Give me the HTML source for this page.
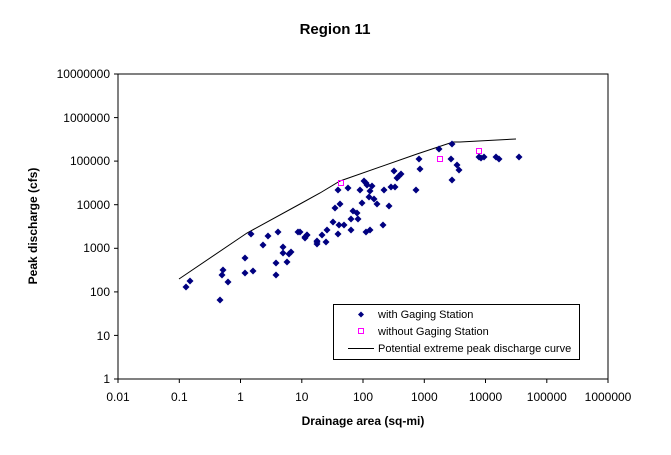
<!DOCTYPE html>
<html><head><style>body{margin:0;background:#fff}</style></head><body>
<svg width="671" height="450" xmlns="http://www.w3.org/2000/svg" xmlns:xlink="http://www.w3.org/1999/xlink" font-family="Liberation Sans, Arial, sans-serif">
<defs><polygon id="d" points="0,-3.5 3.5,0 0,3.5 -3.5,0" fill="#000080"/></defs>
<rect width="671" height="450" fill="#fff"/>
<text x="335" y="34" font-size="15" font-weight="bold" text-anchor="middle">Region 11</text>
<rect x="118" y="74" width="490" height="305" fill="none" stroke="#000" stroke-width="1"/>
<g stroke="#000">
<line x1="114" y1="74" x2="118" y2="74"/><line x1="114" y1="117.6" x2="118" y2="117.6"/><line x1="114" y1="161.1" x2="118" y2="161.1"/><line x1="114" y1="204.7" x2="118" y2="204.7"/><line x1="114" y1="248.3" x2="118" y2="248.3"/><line x1="114" y1="291.9" x2="118" y2="291.9"/><line x1="114" y1="335.4" x2="118" y2="335.4"/><line x1="114" y1="379" x2="118" y2="379"/>
<line x1="118" y1="379" x2="118" y2="383"/><line x1="179.3" y1="379" x2="179.3" y2="383"/><line x1="240.5" y1="379" x2="240.5" y2="383"/><line x1="301.8" y1="379" x2="301.8" y2="383"/><line x1="363" y1="379" x2="363" y2="383"/><line x1="424.3" y1="379" x2="424.3" y2="383"/><line x1="485.5" y1="379" x2="485.5" y2="383"/><line x1="546.8" y1="379" x2="546.8" y2="383"/><line x1="608" y1="379" x2="608" y2="383"/>
</g>
<g font-size="12" text-anchor="end">
<text x="110" y="78">10000000</text><text x="110" y="122">1000000</text><text x="110" y="165">100000</text><text x="110" y="209">10000</text><text x="110" y="252">1000</text><text x="110" y="296">100</text><text x="110" y="340">10</text><text x="110" y="383">1</text>
</g>
<g font-size="12" text-anchor="middle">
<text x="118" y="401">0.01</text><text x="179.3" y="401">0.1</text><text x="240.5" y="401">1</text><text x="301.8" y="401">10</text><text x="363" y="401">100</text><text x="424.3" y="401">1000</text><text x="485.5" y="401">10000</text><text x="546.8" y="401">100000</text><text x="608" y="401">1000000</text>
</g>
<text x="363" y="425" font-size="12" font-weight="bold" text-anchor="middle">Drainage area (sq-mi)</text>
<text transform="translate(37,226) rotate(-90)" font-size="12" font-weight="bold" text-anchor="middle">Peak discharge (cfs)</text>
<polyline points="179,279 247,233 300,204 320,193 340,181 417,154 453,142 460,142 516,139" fill="none" stroke="#000" stroke-width="1"/>
<g>
<use xlink:href="#d" x="338" y="190"/><use xlink:href="#d" x="348" y="188"/><use xlink:href="#d" x="360" y="190"/><use xlink:href="#d" x="364" y="181"/><use xlink:href="#d" x="366" y="183"/><use xlink:href="#d" x="367" y="185"/><use xlink:href="#d" x="372" y="186"/><use xlink:href="#d" x="370" y="191"/><use xlink:href="#d" x="369" y="197"/><use xlink:href="#d" x="374" y="199"/><use xlink:href="#d" x="377" y="204"/><use xlink:href="#d" x="362" y="203"/><use xlink:href="#d" x="340" y="204"/><use xlink:href="#d" x="335" y="208"/><use xlink:href="#d" x="353" y="211"/><use xlink:href="#d" x="357" y="213"/><use xlink:href="#d" x="358" y="219"/><use xlink:href="#d" x="351" y="219"/><use xlink:href="#d" x="333" y="222"/><use xlink:href="#d" x="339" y="225"/><use xlink:href="#d" x="344" y="225"/><use xlink:href="#d" x="351" y="230"/><use xlink:href="#d" x="338" y="234"/><use xlink:href="#d" x="366" y="232"/><use xlink:href="#d" x="370" y="230"/><use xlink:href="#d" x="383" y="225"/><use xlink:href="#d" x="389" y="206"/><use xlink:href="#d" x="384" y="190"/><use xlink:href="#d" x="391" y="187"/><use xlink:href="#d" x="395" y="187"/><use xlink:href="#d" x="394" y="171"/><use xlink:href="#d" x="397" y="178"/><use xlink:href="#d" x="399" y="176"/><use xlink:href="#d" x="401" y="174"/><use xlink:href="#d" x="416" y="190"/><use xlink:href="#d" x="419" y="159"/><use xlink:href="#d" x="420" y="169"/><use xlink:href="#d" x="439" y="149"/><use xlink:href="#d" x="451" y="159"/><use xlink:href="#d" x="452" y="144"/><use xlink:href="#d" x="452" y="180"/><use xlink:href="#d" x="457" y="165"/><use xlink:href="#d" x="459" y="170"/><use xlink:href="#d" x="479" y="157"/><use xlink:href="#d" x="481" y="158"/><use xlink:href="#d" x="484" y="157"/><use xlink:href="#d" x="496" y="157"/><use xlink:href="#d" x="499" y="159"/><use xlink:href="#d" x="519" y="157"/><use xlink:href="#d" x="327" y="230"/><use xlink:href="#d" x="322" y="235"/><use xlink:href="#d" x="307" y="235"/><use xlink:href="#d" x="305" y="237"/><use xlink:href="#d" x="317" y="242"/><use xlink:href="#d" x="317" y="244"/><use xlink:href="#d" x="326" y="242"/><use xlink:href="#d" x="300" y="232"/><use xlink:href="#d" x="186" y="287"/><use xlink:href="#d" x="190" y="281"/><use xlink:href="#d" x="222" y="275"/><use xlink:href="#d" x="223" y="270"/><use xlink:href="#d" x="228" y="282"/><use xlink:href="#d" x="245" y="258"/><use xlink:href="#d" x="245" y="273"/><use xlink:href="#d" x="251" y="234"/><use xlink:href="#d" x="253" y="271"/><use xlink:href="#d" x="263" y="245"/><use xlink:href="#d" x="268" y="236"/><use xlink:href="#d" x="276" y="263"/><use xlink:href="#d" x="276" y="275"/><use xlink:href="#d" x="278" y="232"/><use xlink:href="#d" x="283" y="247"/><use xlink:href="#d" x="283" y="253"/><use xlink:href="#d" x="287" y="262"/><use xlink:href="#d" x="289" y="254"/><use xlink:href="#d" x="291" y="252"/><use xlink:href="#d" x="298" y="232"/><use xlink:href="#d" x="305" y="238"/><use xlink:href="#d" x="307" y="235"/><use xlink:href="#d" x="317" y="241"/><use xlink:href="#d" x="220" y="300"/>
</g>
<g fill="none" stroke="#ff00ff" stroke-width="1">
<rect x="338.5" y="180.5" width="5" height="5"/><rect x="437.5" y="156.5" width="5" height="5"/><rect x="476.5" y="148.5" width="5" height="5"/>
</g>
<rect x="333.5" y="304.5" width="246" height="55" fill="#fff" stroke="#000"/>
<polygon points="361,311.5 364,314.5 361,317.5 358,314.5" fill="#000080"/>
<rect x="358.5" y="328.5" width="5" height="5" fill="none" stroke="#ff00ff"/>
<line x1="348" y1="348.5" x2="374" y2="348.5" stroke="#000"/>
<g font-size="11"><text x="378" y="318">with Gaging Station</text><text x="378" y="335">without Gaging Station</text><text x="378" y="352">Potential extreme peak discharge curve</text></g>
</svg>
</body></html>
